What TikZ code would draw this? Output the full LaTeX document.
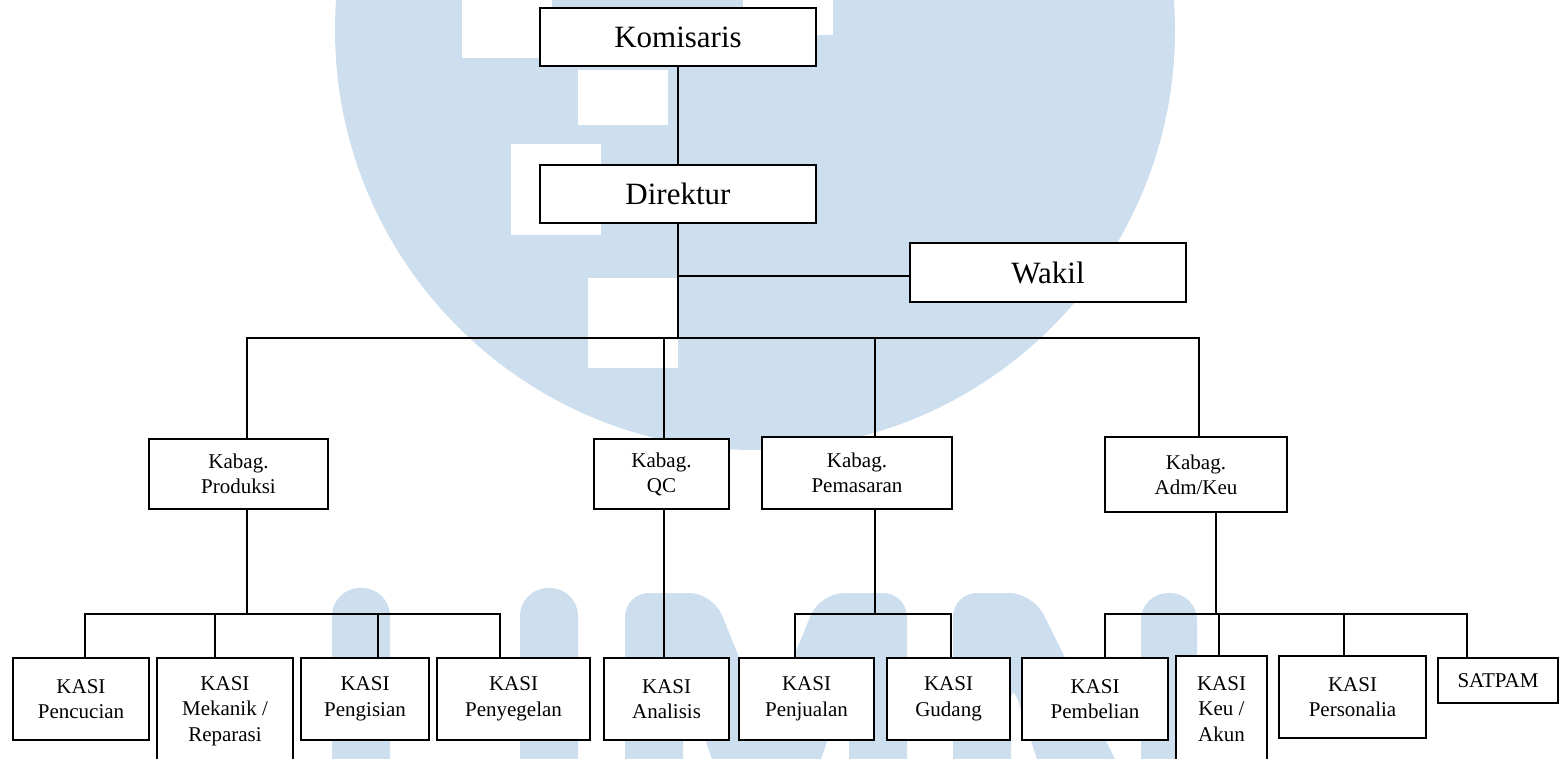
\documentclass[tikz,border=0pt]{standalone}
\usepackage{fontspec}
\setmainfont{Liberation Serif}
\definecolor{wmblue}{RGB}{205,223,238}
\begin{document}
\begin{tikzpicture}[x=1pt,y=-1pt,
  box/.style={draw=black, line width=1.9pt, fill=white, inner sep=0pt, align=center},
  topbox/.style={box, font=\fontsize{31}{37}\selectfont},
  midbox/.style={box, font=\fontsize{21}{25}\selectfont},
  lowbox/.style={box, font=\fontsize{21}{25.5}\selectfont},
  link/.style={draw=black, line width=2pt, line join=miter},
  wm/.style={fill=wmblue, draw=none}]
\useasboundingbox (0,0) rectangle (1559,759);
\fill[white] (0,0) rectangle (1559,759);
% ---- watermark ----
\begin{scope}
\clip (0,0) rectangle (1559,759);
\fill[wm] (755,30) circle[radius=420pt];
\fill[white] (462,-5) rectangle (552,58);
\fill[white] (743,-5) rectangle (833,35);
\fill[white] (578,70) rectangle (668,125);
\fill[white] (511,144) rectangle (601,235);
\fill[white] (588,278) rectangle (678,368);
% U
\fill[wm, rounded corners=28pt] (332,820) -- (332,588) -- (390,588) -- (390,820) -- cycle;
\fill[wm, rounded corners=28pt] (520,820) -- (520,588) -- (578,588) -- (578,820) -- cycle;
% M
\fill[wm, rounded corners=24pt] (625,820) -- (625,593) -- (713,593) -- (766,724) -- (820,593) -- (907,593) -- (907,820) -- (849,820) -- (849,678) -- (800,820) -- (733,820) -- (683,675) -- (683,820) -- cycle;
% N
\fill[wm, rounded corners=24pt] (953,820) -- (953,593) -- (1033,593) -- (1150,830) -- (1060,830) -- (1011,679) -- (1011,820) -- cycle;
\fill[wm, rounded corners=27pt] (1141,820) -- (1141,593) -- (1197,593) -- (1197,820) -- cycle;
\end{scope}
% ---- boxes ----
\node[topbox, minimum width=276pt, minimum height=58pt] (kom) at (678,37) {Komisaris};
\node[topbox, minimum width=276pt, minimum height=58pt] (dir) at (678,194) {Direktur};
\node[topbox, minimum width=276pt, minimum height=59pt] (wak) at (1048,272.5) {Wakil};
\node[midbox, minimum width=179pt, minimum height=70pt] (kp) at (238.5,474) {Kabag.\\Produksi};
\node[midbox, minimum width=135pt, minimum height=70pt] (kq) at (661.5,474) {Kabag.\\QC};
\node[midbox, minimum width=190pt, minimum height=72pt] (kpm) at (857,473) {Kabag.\\Pemasaran};
\node[midbox, minimum width=182pt, minimum height=75pt] (ka) at (1196,474.5) {Kabag.\\Adm/Keu};
\node[lowbox, minimum width=136pt, minimum height=82pt] (k1) at (81,699) {KASI\\Pencucian};
\node[lowbox, minimum width=136pt, minimum height=106pt] (k2) at (225,711) {KASI\\Mekanik /\\Reparasi};
\node[lowbox, minimum width=128pt, minimum height=82pt] (k3) at (365,699) {KASI\\Pengisian};
\node[lowbox, minimum width=153pt, minimum height=82pt] (k4) at (513.5,699) {KASI\\Penyegelan};
\node[lowbox, minimum width=125pt, minimum height=82pt] (k5) at (666.5,699) {KASI\\Analisis};
\node[lowbox, minimum width=135pt, minimum height=82pt] (k6) at (806.5,699) {KASI\\Penjualan};
\node[lowbox, minimum width=123pt, minimum height=82pt] (k7) at (948.5,699) {KASI\\Gudang};
\node[lowbox, minimum width=146pt, minimum height=82pt] (k8) at (1095,699) {KASI\\Pembelian};
\node[lowbox, minimum width=91pt, minimum height=106pt] (k9) at (1221.5,709) {KASI\\Keu /\\Akun};
\node[lowbox, minimum width=147pt, minimum height=82pt] (k10) at (1352.5,697) {KASI\\Personalia};
\node[lowbox, minimum width=120pt, minimum height=45pt] (k11) at (1498,680.5) {SATPAM};
% ---- connectors ----
\draw[link] (kom) -- (dir);
\coordinate (bj) at (678,338);
\coordinate (wj) at (678,276);
\draw[link] (dir.south) -- (bj);
\draw[link] (wj) -- (wj -| wak.west);
\coordinate (bl) at (247,338);
\coordinate (bq) at (664,338);
\coordinate (bm) at (875,338);
\coordinate (br) at (1199,338);
\draw[link] (bl |- kp.north) -- (bl) -- (br) -- (br |- ka.north);
\draw[link] (bq) -- (bq |- kq.north);
\draw[link] (bm) -- (bm |- kpm.north);
% Produksi
\coordinate (pj) at (247,614);
\coordinate (p1) at (85,614);
\coordinate (p2) at (215,614);
\coordinate (p3) at (378,614);
\coordinate (p4) at (500,614);
\draw[link] (pj |- kp.south) -- (pj);
\draw[link] (p1 |- k1.north) -- (p1) -- (p4) -- (p4 |- k4.north);
\draw[link] (p2) -- (p2 |- k2.north);
\draw[link] (p3) -- (p3 |- k3.north);
% QC
\coordinate (qx) at (664,614);
\draw[link] (qx |- kq.south) -- (qx |- k5.north);
% Pemasaran
\coordinate (mj) at (875,614);
\coordinate (m1) at (795,614);
\coordinate (m2) at (951,614);
\draw[link] (mj |- kpm.south) -- (mj);
\draw[link] (m1 |- k6.north) -- (m1) -- (m2) -- (m2 |- k7.north);
% Adm/Keu
\coordinate (aj) at (1216,614);
\coordinate (a1) at (1105,614);
\coordinate (a2) at (1219,614);
\coordinate (a3) at (1344,614);
\coordinate (a4) at (1467,614);
\draw[link] (aj |- ka.south) -- (aj);
\draw[link] (a1 |- k8.north) -- (a1) -- (a4) -- (a4 |- k11.north);
\draw[link] (a2) -- (a2 |- k9.north);
\draw[link] (a3) -- (a3 |- k10.north);
\end{tikzpicture}
\end{document}
